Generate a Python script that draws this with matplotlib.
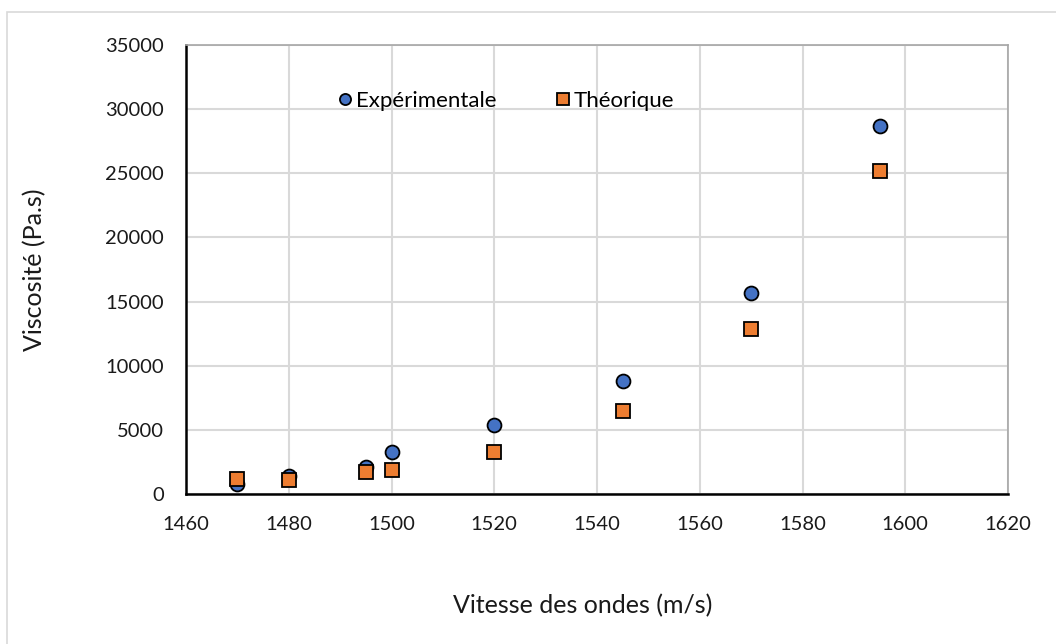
import matplotlib
matplotlib.use("Agg")
import matplotlib.pyplot as plt
from matplotlib.patches import Rectangle

# Wave speed (m/s) and viscosity (Pa.s)
vitesse = [1470, 1480, 1495, 1500, 1520, 1545, 1570, 1595]
visc_experimentale = [800, 1400, 2100, 3300, 5400, 8800, 15700, 28700]
visc_theorique = [1200, 1100, 1700, 1900, 3300, 6500, 12900, 25200]

x_ticks = [1460, 1480, 1500, 1520, 1540, 1560, 1580, 1600, 1620]
y_ticks = [0, 5000, 10000, 15000, 20000, 25000, 30000, 35000]

plt.rcParams['font.family'] = ['Lato', 'DejaVu Sans']

fig = plt.figure(figsize=(10.56, 6.44), dpi=100)
ax = fig.add_axes([186 / 1056, 1 - 494 / 644, (1008 - 186) / 1056, (494 - 45) / 644])

# chart-area frame
fig.patches.append(Rectangle((7 / 1056, -0.1), 1.2, 1 - 12 / 644 + 0.1,
                             transform=fig.transFigure, fill=False,
                             edgecolor='#d9d9d9', linewidth=1.2))

ax.plot(vitesse, visc_experimentale, linestyle='none', marker='o', markersize=10,
        markerfacecolor='#4472C4', markeredgecolor='black', markeredgewidth=1.3,
        label='Expérimentale', zorder=3)
ax.plot(vitesse, visc_theorique, linestyle='none', marker='s', markersize=10,
        markerfacecolor='#ED7D31', markeredgecolor='black', markeredgewidth=1.3,
        label='Théorique', zorder=4)

ax.set_xlim(x_ticks[0], x_ticks[-1])
ax.set_ylim(y_ticks[0], y_ticks[-1])
ax.set_xticks(x_ticks)
ax.set_yticks(y_ticks)
ax.grid(True, color='#d9d9d9', linewidth=1.5)
ax.set_axisbelow(True)
ax.tick_params(length=0, labelsize=14.5, colors='#1a1a1a')
ax.tick_params(axis='x', pad=16)
ax.tick_params(axis='y', pad=16)

for side in ('top', 'right'):
    ax.spines[side].set_color('#a6a6a6')
    ax.spines[side].set_linewidth(1.2)
for side in ('left', 'bottom'):
    ax.spines[side].set_color('black')
    ax.spines[side].set_linewidth(1.8)

ax.set_xlabel('Vitesse des ondes (m/s)', fontsize=18, labelpad=44, color='#1a1a1a')
ax.xaxis.label.set_x(0.482)
ax.set_ylabel('Viscosité (Pa.s)', fontsize=18, labelpad=42, color='#1a1a1a')

ax.legend(loc='center left', bbox_to_anchor=(0.155, 0.875), ncol=2, frameon=False,
          fontsize=16, handletextpad=0.0, columnspacing=2.5, handlelength=1.0,
          markerscale=0.8)

fig.savefig('out.png', dpi=100)
